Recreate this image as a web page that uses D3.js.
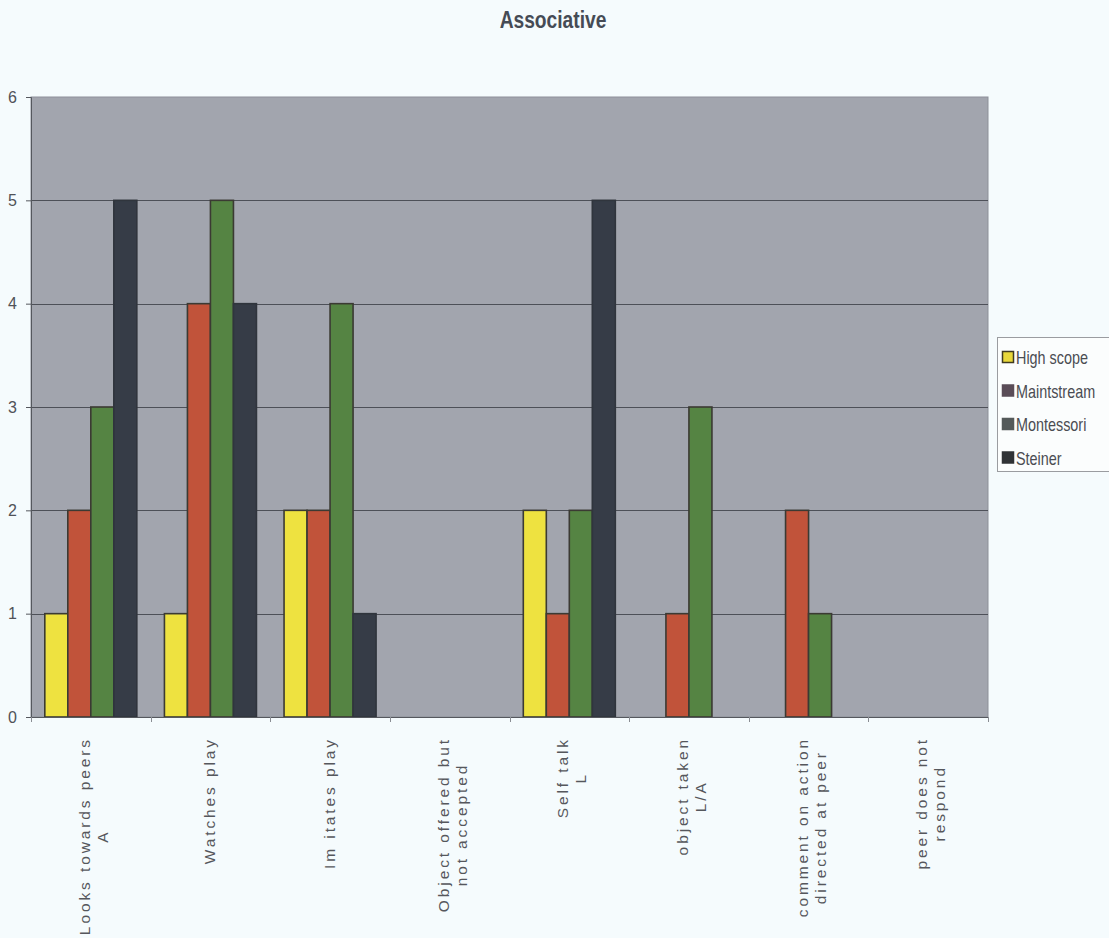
<!DOCTYPE html>
<html>
<head>
<meta charset="utf-8">
<script src="https://cdn.jsdelivr.net/npm/d3@7"></script>
<style>
  html, body { margin: 0; padding: 0; background: #f5fbfd; }
  svg { display: block; }
</style>
</head>
<body>
<svg id="chart" width="1109" height="938"></svg>
<script>
// Behaviour categories (second line of a label follows the "\n")
const categories = [
  "Looks towards peers\nA",
  "Watches play",
  "Im itates play",
  "Object offered but\nnot accepted",
  "Self talk\nL",
  "object taken\nL/A",
  "comment on action\ndirected at peer",
  "peer does not\nrespond"
];

const seriesNames = ["High scope", "Maintstream", "Montessori", "Steiner"];

const highScope   = [1, 1, 2, 0, 2, 0, 0, 0];
const maintstream = [2, 4, 2, 0, 1, 1, 2, 0];
const montessori  = [3, 5, 4, 0, 2, 3, 1, 0];
const steiner     = [5, 4, 1, 0, 5, 0, 0, 0];

const yTicks = [0, 1, 2, 3, 4, 5, 6];

const seriesValues = [highScope, maintstream, montessori, steiner];
const barColors = ["#eee240", "#c1533a", "#558443", "#363c47"];
const legendColors = ["#e8d83a", "#5a4c57", "#545a5a", "#303336"];

const FONT = "'Liberation Sans', Arial, sans-serif";
const NARROW = 0.8; // horizontal squeeze for condensed-looking text

const svg = d3.select("#chart");
const plot = { left: 31, right: 988, top: 97, bottom: 717 };

// Title
svg.append("text")
  .attr("transform", `translate(553,28) scale(${NARROW},1)`)
  .attr("text-anchor", "middle")
  .attr("font-family", FONT)
  .attr("font-weight", "bold")
  .attr("font-size", 24)
  .attr("fill", "#454b55")
  .text("Associative");

const x = d3.scaleBand().domain(d3.range(categories.length))
  .range([plot.left, plot.right]).paddingInner(0).paddingOuter(0);
const xs = d3.scaleBand().domain(d3.range(seriesNames.length))
  .range([0, x.bandwidth()]).paddingInner(0).paddingOuter(0.6);
const y = d3.scaleLinear().domain([0, 6]).range([plot.bottom, plot.top]);

// Plot area
svg.append("rect")
  .attr("x", plot.left).attr("y", plot.top)
  .attr("width", plot.right - plot.left).attr("height", plot.bottom - plot.top)
  .attr("fill", "#a2a5ae")
  .attr("stroke", "#8d9099").attr("stroke-width", 1);

// Gridlines
svg.append("g").selectAll("line")
  .data(yTicks.filter(d => d > 0 && d < 6))
  .join("line")
  .attr("x1", plot.left).attr("x2", plot.right)
  .attr("y1", d => Math.round(y(d)) + 0.5).attr("y2", d => Math.round(y(d)) + 0.5)
  .attr("stroke", "#4d5058").attr("stroke-width", 1);

// Bars
const groups = svg.append("g").selectAll("g")
  .data(categories.map((c, i) => ({ i, values: seriesValues.map(s => s[i]) })))
  .join("g")
  .attr("transform", d => `translate(${x(d.i)},0)`);

groups.selectAll("rect")
  .data(d => d.values.map((v, s) => ({ v, s })).filter(e => e.v > 0))
  .join("rect")
  .attr("x", d => xs(d.s))
  .attr("y", d => y(d.v))
  .attr("width", xs.bandwidth())
  .attr("height", d => y(0) - y(d.v))
  .attr("fill", d => barColors[d.s])
  .attr("stroke", d => d.s === 3 ? "#30353d" : "#3b3a33")
  .attr("stroke-width", 1.6);

// Y axis
const yAxis = svg.append("g")
  .attr("transform", `translate(${plot.left},0)`)
  .call(d3.axisLeft(y).tickValues(yTicks).tickFormat(d3.format("d")).tickSize(5).tickPadding(9));
yAxis.select(".domain").attr("stroke", "#55585e");
yAxis.selectAll(".tick line").attr("stroke", "#55585e");
yAxis.selectAll("text")
  .attr("font-family", FONT)
  .attr("font-size", 16).attr("fill", "#505258");

// X axis: ticks at category boundaries
const xAxis = svg.append("g");
xAxis.append("line")
  .attr("x1", plot.left).attr("x2", plot.right)
  .attr("y1", plot.bottom + 0.5).attr("y2", plot.bottom + 0.5)
  .attr("stroke", "#55585e");
xAxis.selectAll("line.tk")
  .data(d3.range(categories.length + 1))
  .join("line").attr("class", "tk")
  .attr("x1", d => Math.round(plot.left + d * x.step()) + 0.5)
  .attr("x2", d => Math.round(plot.left + d * x.step()) + 0.5)
  .attr("y1", plot.bottom).attr("y2", plot.bottom + 5)
  .attr("stroke", "#8a8d93");

// Rotated category labels
const labelTop = 737;
const lineGap = 18;
const labelSize = 15.5;
const labelSpacing = 2.9;
categories.forEach((c, i) => {
  const lines = c.split("\n");
  const cx = x(i) + x.bandwidth() / 2;
  const base = lines.length === 1 ? cx + 5 : cx + 4 - (lines.length - 1) * lineGap / 2 + 4;
  const g = svg.append("g").attr("class", "xlabel");
  const first = g.append("text")
    .attr("transform", `translate(${base},${labelTop}) rotate(-90)`)
    .attr("text-anchor", "end")
    .attr("font-family", FONT)
    .attr("font-size", labelSize)
    .attr("letter-spacing", labelSpacing)
    .attr("fill", "#55575c")
    .text(lines[0]);
  const len = first.node().getComputedTextLength();
  lines.slice(1).forEach((ln, k) => {
    g.append("text")
      .attr("transform", `translate(${base + (k + 1) * lineGap},${labelTop + len / 2}) rotate(-90)`)
      .attr("text-anchor", "middle")
      .attr("font-family", FONT)
      .attr("font-size", labelSize)
      .attr("letter-spacing", labelSpacing)
      .attr("fill", "#55575c")
      .text(ln);
  });
});

// Legend
const legend = svg.append("g").attr("transform", "translate(997,337)");
legend.append("rect")
  .attr("x", 0.5).attr("y", 0.5).attr("width", 130).attr("height", 134)
  .attr("fill", "#fbfdfd").attr("stroke", "#9a9ca0");
const items = legend.selectAll("g.item")
  .data(seriesNames)
  .join("g").attr("class", "item")
  .attr("transform", (d, i) => `translate(0,${20 + i * 33.5})`);
items.append("rect")
  .attr("x", 5.5).attr("y", -5.5).attr("width", 11).attr("height", 11)
  .attr("fill", (d, i) => legendColors[i])
  .attr("stroke", (d, i) => i === 0 ? "#3f3a20" : legendColors[i])
  .attr("stroke-width", 1.5);
items.append("text")
  .attr("transform", `translate(19,7) scale(${NARROW},1)`)
  .attr("font-family", FONT)
  .attr("font-size", 18)
  .attr("fill", "#4a4c52")
  .text(d => d);
</script>
</body>
</html>
